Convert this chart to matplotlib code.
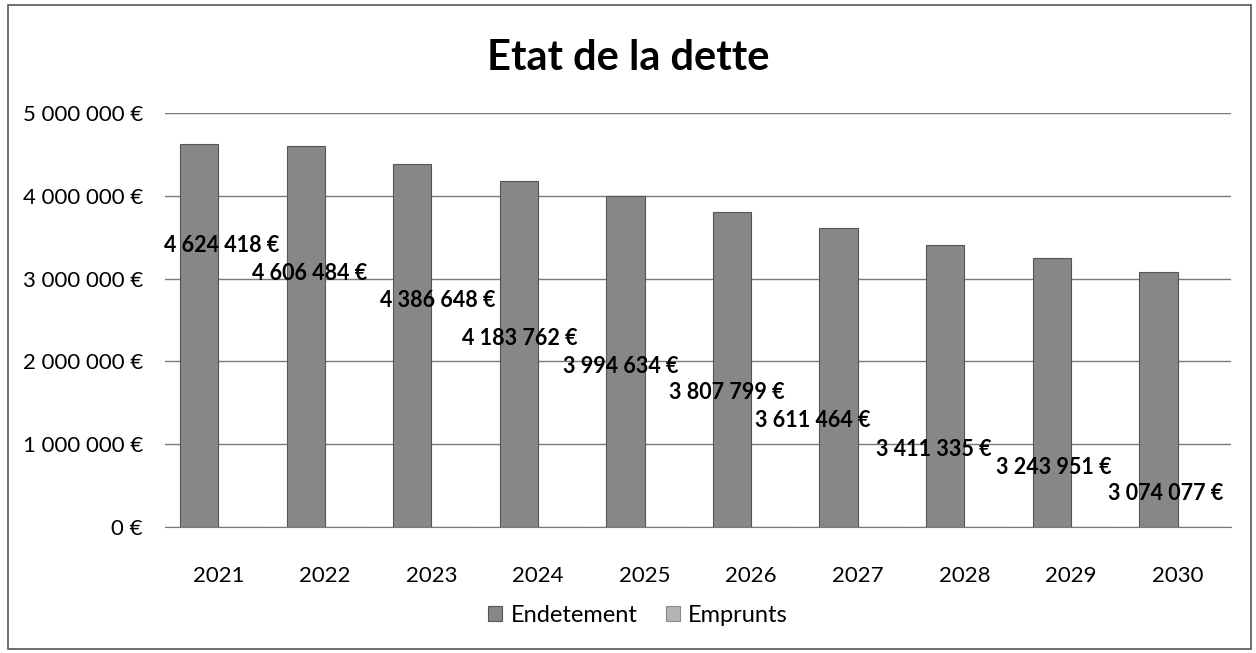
import matplotlib.pyplot as plt
import numpy as np
from matplotlib.patches import Rectangle
from matplotlib.ticker import FuncFormatter

plt.rcParams["font.family"] = ["Lato", "DejaVu Sans"]

# -------------------------------------
# Data
# -------------------------------------

years = ["2021", "2022", "2023", "2024", "2025",
         "2026", "2027", "2028", "2029", "2030"]

endettement = [4624418, 4606484, 4386648, 4183762, 3994634,
               3807799, 3611464, 3411335, 3243951, 3074077]

emprunts = [0, 0, 0, 0, 0, 0, 0, 0, 0, 0]

# where Excel dropped the data labels (x shift in categories, y in euros)
label_dx = [0.03, -0.145, 0.06, -0.17, -0.22, -0.23, -0.42, -0.29, -0.16, -0.11]
label_y = [3.40e6, 3.06e6, 2.73e6, 2.28e6, 1.94e6,
           1.63e6, 1.29e6, 0.94e6, 0.72e6, 0.41e6]


def euro(v, pos=None):
    return f"{int(round(v)):,}".replace(",", " ") + " €"


# -------------------------------------
# Figure
# -------------------------------------

fig = plt.figure(figsize=(12.56, 6.53), dpi=100)
ax = fig.add_axes([0.1314, 0.193, 0.8486, 0.634])

x = np.arange(len(years))
width = 0.36

ax.bar(x - width / 2, endettement, width,
       color="#878787", edgecolor="#555555", linewidth=0.8,
       label="Endetement", zorder=3)
ax.bar(x + width / 2, emprunts, width,
       color="#b5b5b5", edgecolor="#8a8a8a", linewidth=0.8,
       label="Emprunts", zorder=3)

for i, v in enumerate(endettement):
    ax.text(x[i] + label_dx[i], label_y[i], euro(v),
            ha="center", va="center", fontsize=15.5,
            fontweight="bold", color="black", zorder=4)

ax.set_xlim(-0.5, len(years) - 0.5)
ax.set_ylim(0, 5000000)
ax.set_yticks(np.arange(0, 5000001, 1000000))
ax.yaxis.set_major_formatter(FuncFormatter(euro))
ax.set_xticks(x)
ax.set_xticklabels(years)

ax.grid(axis="y", color="#7a7a7a", linewidth=1.0, zorder=0)
for side in ["left", "right", "top"]:
    ax.spines[side].set_visible(False)
ax.spines["bottom"].set_color("#7a7a7a")
ax.tick_params(axis="y", length=0, pad=16, labelsize=16)
ax.tick_params(axis="x", length=0, pad=28, labelsize=16)

fig.suptitle("Etat de la dette", x=0.5, y=0.94,
             fontsize=30, fontweight="bold")

fig.legend(loc="center", bbox_to_anchor=(0.508, 0.058), ncol=2,
           frameon=False, fontsize=17, handlelength=0.6,
           handleheight=0.6, columnspacing=1.2, handletextpad=0.35)

# outer frame of the chart object
fig.patches.append(Rectangle((0.006, 0.006), 0.99, 0.986,
                             transform=fig.transFigure, fill=False,
                             edgecolor="#555555", linewidth=1.2))

plt.savefig("out.png", dpi=100)
